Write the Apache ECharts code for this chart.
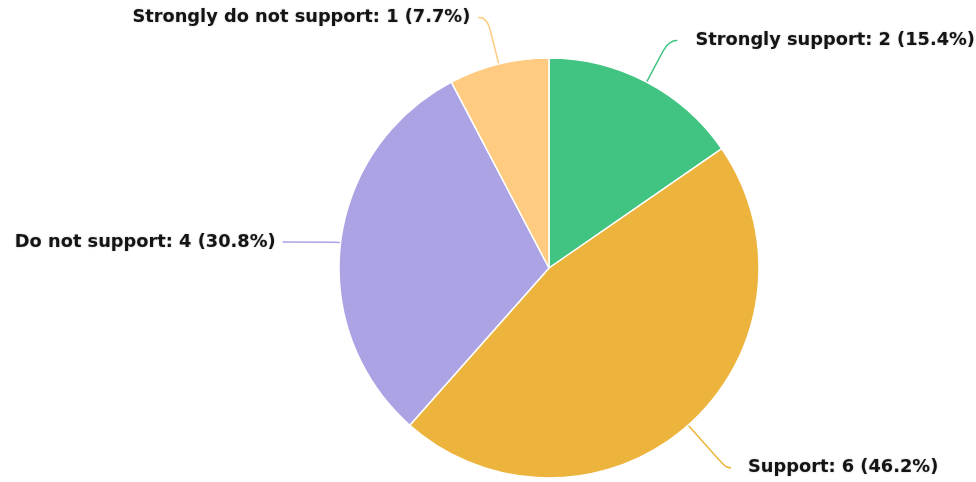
<!DOCTYPE html>
<html>
<head>
<meta charset="utf-8">
<script src="https://cdn.jsdelivr.net/npm/echarts@6/dist/echarts.min.js"></script>
<style>
  html, body { margin: 0; padding: 0; background: #fff; }
  #chart { width: 976px; height: 482px; }
</style>
</head>
<body>
<div id="chart"></div>
<script>
const categories = ['Strongly support', 'Support', 'Do not support', 'Strongly do not support']
const values = [2, 6, 4, 1]
const colorList = ['#41C482', '#ECB43C', '#ACA3E5', '#FECB80']
// label line per slice: [length, length2, gap to text]
const lineLengths = [[47, 9, 18], [57, 5, 17], [5, 53, 7], [48, 9, 8]]

const total = values.reduce((a, b) => a + b, 0)
const data = categories.map((name, i) => ({
  name: name,
  value: values[i],
  label: { distanceToLabelLine: lineLengths[i][2] },
  labelLine: { length: lineLengths[i][0], length2: lineLengths[i][1] }
}))

const chart = echarts.init(document.getElementById('chart'))
chart.setOption({
  animation: false,
  color: colorList,
  series: [
    {
      type: 'pie',
      center: [549, 268],
      radius: 210,
      startAngle: 90,
      avoidLabelOverlap: false,
      data: data,
      itemStyle: {
        borderColor: '#fff',
        borderWidth: 1.5
      },
      label: {
        show: true,
        color: '#141414',
        fontFamily: 'DejaVu Sans',
        fontWeight: 'bold',
        fontSize: 17.8,
        overflow: 'none',
        padding: [4, 0, 0, 0],
        textShadowColor: 'rgba(0,0,0,0.25)',
        textShadowBlur: 2,
        formatter: (p) => p.name + ': ' + p.value + ' (' + (p.value / total * 100).toFixed(1) + '%)'
      },
      labelLine: {
        show: true,
        smooth: 0.6,
        lineStyle: { width: 1.5 }
      }
    }
  ]
})
</script>
</body>
</html>
